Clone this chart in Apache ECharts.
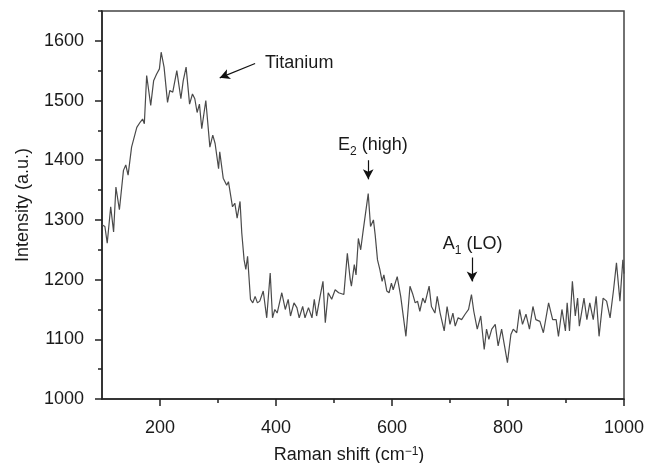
<!DOCTYPE html>
<html>
<head>
<meta charset="utf-8">
<script src="https://cdn.jsdelivr.net/npm/echarts@6/dist/echarts.min.js"></script>
<style>
  html, body { margin: 0; padding: 0; background: #fff; }
  #main { width: 648px; height: 463px; }
</style>
</head>
<body>
<div id="main"></div>
<script>
    // Raman spectrum
    var ramanShift = [100, 105, 109, 115, 120, 124, 130, 137, 141, 145, 151, 154, 160, 166, 170, 173, 177, 184, 189, 194,
        199, 202, 207, 213, 217, 222, 229, 236, 240, 245, 251, 256, 260, 264, 268, 272, 279, 286, 291, 295,
        301, 303, 309, 315, 318, 325, 329, 333, 338, 341, 345, 348, 351, 356, 360, 364, 368, 372, 378, 384,
        390, 394, 398, 402, 410, 416, 421, 425, 431, 436, 440, 446, 450, 456, 462, 466, 470, 476, 481, 485,
        490, 496, 502, 508, 517, 523, 528, 530, 535, 538, 542, 546, 550, 553, 559, 563, 568, 571, 575, 579,
        583, 586, 591, 595, 599, 602, 609, 615, 624, 631, 636, 640, 644, 648, 653, 657, 664, 668, 674, 678,
        683, 690, 695, 700, 705, 709, 714, 720, 726, 732, 737, 741, 747, 753, 759, 763, 767, 772, 778, 783,
        789, 794, 799, 805, 809, 815, 820, 825, 831, 837, 843, 848, 855, 861, 870, 877, 883, 887, 893, 899,
        902, 906, 911, 916, 920, 923, 931, 936, 941, 947, 952, 957, 964, 970, 976, 982, 987, 993, 998, 1000];
    var intensity = [1292, 1289, 1261, 1322, 1280, 1355, 1317, 1383, 1392, 1375, 1422, 1419, 1455, 1464, 1469, 1461, 1542, 1492, 1533, 1544,
        1553, 1581, 1556, 1497, 1517, 1514, 1550, 1503, 1533, 1556, 1494, 1511, 1503, 1480, 1494, 1453, 1500, 1422, 1442, 1428,
        1386, 1414, 1370, 1358, 1364, 1322, 1328, 1303, 1331, 1278, 1233, 1217, 1239, 1167, 1161, 1172, 1161, 1164, 1181, 1136,
        1211, 1136, 1150, 1144, 1178, 1150, 1167, 1139, 1161, 1153, 1136, 1155, 1136, 1153, 1136, 1167, 1139, 1172, 1197, 1128,
        1178, 1167, 1183, 1178, 1175, 1244, 1200, 1189, 1225, 1208, 1269, 1250, 1280, 1278, 1344, 1289, 1300, 1275, 1233, 1217,
        1197, 1208, 1181, 1178, 1194, 1183, 1205, 1172, 1105, 1189, 1175, 1161, 1164, 1147, 1169, 1161, 1189, 1155, 1144, 1172,
        1144, 1114, 1155, 1125, 1144, 1122, 1136, 1133, 1142, 1150, 1175, 1147, 1117, 1139, 1083, 1117, 1100, 1117, 1125, 1089,
        1117, 1089, 1061, 1108, 1117, 1111, 1150, 1125, 1142, 1117, 1155, 1133, 1130, 1111, 1161, 1133, 1133, 1105, 1150, 1114,
        1161, 1114, 1197, 1139, 1169, 1122, 1169, 1133, 1161, 1133, 1172, 1105, 1169, 1164, 1136, 1183, 1228, 1164, 1233, 1210];

    var xTicks = [200, 400, 600, 800, 1000];
    var xMinorTicks = [300, 500, 700, 900];
    var yTicks = [1000, 1100, 1200, 1300, 1400, 1500, 1600];
    var yMinorTicks = [1050, 1150, 1250, 1350, 1450, 1550, 1650];

    // peak labels and arrows, in data units
    var noteText = ['Titanium', '{t|E}{sub|2}{t| (high)}', '{t|A}{sub|1}{t| (LO)}'];
    var notePos = [[440, 1563], [567, 1425], [739, 1259]];
    var arrowFrom = [[364, 1562], [559, 1400], [738, 1237]];
    var arrowTo = [[303, 1538], [559, 1368], [738, 1197]];

    var FONT = 'Liberation Sans';
    var INK = '#1a1a1a';

    drawChart();

    function plain(v) {   // no thousands separator
        return String(v);
    }

    function drawChart() {
        var points = [];
        for (var i = 0; i < ramanShift.length; i++) {
            points.push([ramanShift[i], intensity[i]]);
        }

        var marks = [];
        for (var j = 0; j < noteText.length; j++) {
            marks.push({ coord: notePos[j], label: { formatter: noteText[j] } });
        }
        var arrows = [];
        for (var k = 0; k < arrowFrom.length; k++) {
            arrows.push([
                { coord: arrowFrom[k], symbol: 'none' },
                { coord: arrowTo[k], symbol: 'arrow' }
            ]);
        }

        var txt = { fontSize: 18, lineHeight: 24, fontFamily: FONT, color: INK };
        var sub = { fontSize: 12, height: 12, verticalAlign: 'bottom', fontFamily: FONT, color: INK };
        var tickStyle = { color: '#222', width: 1.5 };

        var option = {
            animation: false,
            backgroundColor: '#fff',
            grid: {
                left: 102, right: 24, top: 11, bottom: 64,
                outerBoundsMode: 'none',
                show: true, borderColor: '#444', borderWidth: 1.5
            },
            xAxis: [
                {
                    type: 'value', min: 100, max: 1000,
                    name: '{t|Raman shift (cm}{sup|\u22121}{t|)}',
                    nameLocation: 'middle', nameGap: 47,
                    nameTextStyle: {
                        padding: [0, 28, 0, 0],
                        rich: {
                            t: { fontSize: 18, lineHeight: 18, verticalAlign: 'top', fontFamily: FONT, color: INK },
                            sup: { fontSize: 12, lineHeight: 12, verticalAlign: 'top', fontFamily: FONT, color: INK }
                        }
                    },
                    axisLine: { show: true, lineStyle: tickStyle },
                    axisTick: { show: true, length: 7, customValues: xTicks, lineStyle: tickStyle },
                    axisLabel: { customValues: xTicks, margin: 20, fontSize: 18, fontFamily: FONT, color: INK, formatter: plain },
                    splitLine: { show: false }
                },
                {
                    type: 'value', min: 100, max: 1000, position: 'bottom',
                    axisLine: { show: false },
                    axisTick: { show: true, length: 4, customValues: xMinorTicks, lineStyle: tickStyle },
                    axisLabel: { show: false },
                    splitLine: { show: false }
                }
            ],
            yAxis: [
                {
                    type: 'value', min: 1000, max: 1650,
                    name: 'Intensity (a.u.)',
                    nameLocation: 'middle', nameGap: 70,
                    nameTextStyle: { fontSize: 18, fontFamily: FONT, color: INK },
                    axisLine: { show: true, lineStyle: tickStyle },
                    axisTick: { show: true, length: 7, customValues: yTicks, lineStyle: tickStyle },
                    axisLabel: { customValues: yTicks, margin: 18, fontSize: 18, fontFamily: FONT, color: INK, formatter: plain },
                    splitLine: { show: false }
                },
                {
                    type: 'value', min: 1000, max: 1650, position: 'left',
                    axisLine: { show: false },
                    axisTick: { show: true, length: 4, customValues: yMinorTicks, lineStyle: tickStyle },
                    axisLabel: { show: false },
                    splitLine: { show: false }
                }
            ],
            series: [
                {
                    type: 'line',
                    data: points,
                    showSymbol: false,
                    lineStyle: { color: '#4a4a4a', width: 1.2 },
                    markPoint: {
                        symbol: 'circle',
                        symbolSize: 0,
                        silent: true,
                        itemStyle: { color: 'rgba(0,0,0,0)' },
                        label: {
                            show: true, position: 'inside',
                            fontSize: 18, fontFamily: FONT, color: INK,
                            rich: { t: txt, sub: sub }
                        },
                        data: marks
                    },
                    markLine: {
                        silent: true,
                        symbolSize: [8, 10],
                        label: { show: false },
                        lineStyle: { color: '#111', type: 'solid', width: 1.2 },
                        data: arrows
                    }
                }
            ]
        };

        var myChart = echarts.init(document.getElementById('main'));
        myChart.setOption(option);
    }
</script>
</body>
</html>
